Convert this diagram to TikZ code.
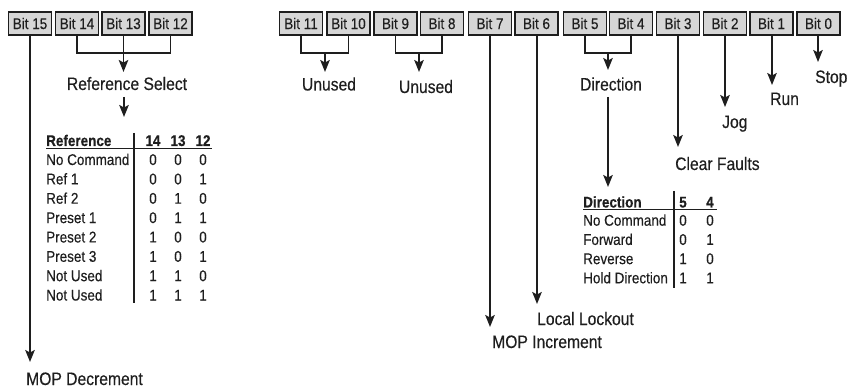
\documentclass[tikz,border=0pt]{standalone}
\usepackage{fontspec}
\setmainfont{Liberation Sans}[FakeStretch=0.87,FakeBold=0.35]
\usetikzlibrary{arrows.meta}
\definecolor{boxfill}{HTML}{D6D6D6}
\definecolor{ink}{HTML}{1E1E1E}
\begin{document}
\begin{tikzpicture}[x=1pt,y=-1pt,
  bitbox/.style={draw=ink, line width=1.6pt, fill=boxfill, minimum width=43pt, minimum height=23pt, inner sep=0pt, font=\fontsize{15.5}{17}\selectfont, text=ink},
  lbl/.style={inner sep=0pt, font=\fontsize{18}{20}\selectfont, text=ink, anchor=base west},
  lblc/.style={lbl, anchor=base},
  tbl/.style={inner sep=0pt, font=\fontsize{15.5}{17}\selectfont, text=ink},
  tblh/.style={inner sep=0pt, font=\fontsize{15.5}{17}\selectfont\bfseries, text=ink},
  wire/.style={draw=ink, line width=1.6pt},
  arr/.style={wire, -{Stealth[length=12pt,width=9.5pt,inset=2.5pt]}},
  tabrule/.style={draw=ink, line width=1.2pt}]
\useasboundingbox (0,0) rectangle (859,390);

% bit boxes
\foreach \n/\x in {15/30,14/77,13/123.5,12/170.5,11/301,10/348.5,9/395.5,8/442,7/490,6/536.5,5/585,4/631,3/678,2/725,1/771.5,0/818.5}
  \node[bitbox] (b\n) at (\x,23.5) {Bit \n};

% labels
\node[lblc] (refsel) at (127,90) {Reference Select};
\node[lblc] (unused1) at (329,90.5) {Unused};
\node[lblc] (unused2) at (426,93) {Unused};
\node[lblc] (dirlbl) at (611,90.5) {Direction};
\node[lbl] (stop) at (815,83) {Stop};
\node[lbl] (run) at (770,105) {Run};
\node[lbl] (jog) at (722,128) {Jog};
\node[lbl] (clrf) at (675,170) {Clear Faults};
\node[lbl] (locl) at (537,325) {Local Lockout};
\node[lbl] (mopi) at (492,348) {MOP Increment};
\node[lbl] (mopd) at (26,385) {MOP Decrement};

% junctions and arrow tips
\coordinate (jref) at (123.5,53);
\coordinate (tref) at (123.5,72);
\coordinate (rsout) at (124,97);
\coordinate (rsin) at (124,117);
\coordinate (ju1) at (325,53);
\coordinate (tu1) at (325,72);
\coordinate (ju2) at (419,53);
\coordinate (tu2) at (419,72);
\coordinate (jdir) at (608,53);
\coordinate (tdir) at (608,70);
\coordinate (dout) at (608,97);
\coordinate (din) at (608,187);
\coordinate (t15) at (30,362);
\coordinate (t7) at (490,327);
\coordinate (t6) at (537,304);
\coordinate (t3) at (678,147);
\coordinate (t2) at (725,107);
\coordinate (t1) at (772,85);
\coordinate (t0) at (818,62);

% brackets
\draw[wire] (b14.south) |- (jref) -| (b12.south);
\draw[wire] (b13.south) -- (jref);
\draw[arr] (jref) -- (tref);
\draw[arr] (rsout) -- (rsin);
\draw[wire] (b11.south) |- (ju1) -| (b10.south);
\draw[arr] (ju1) -- (tu1);
\draw[wire] (b9.south) |- (ju2) -| (b8.south);
\draw[arr] (ju2) -- (tu2);
\draw[wire] (b5.south) |- (jdir) -| (b4.south);
\draw[arr] (jdir) -- (tdir);
\draw[arr] (dout) -- (din);

% single bits
\draw[arr] (b15.south) -- (t15);
\draw[arr] (b7.south) -- (t7);
\draw[arr] (b6.south -| t6) -- (t6);
\draw[arr] (b3.south) -- (t3);
\draw[arr] (b2.south) -- (t2);
\draw[arr] (b1.south -| t1) -- (t1);
\draw[arr] (b0.south -| t0) -- (t0);

% reference table
\node[tblh, anchor=base west] (rh) at (46,146) {Reference};
\node[tblh, anchor=base] (rh14) at (153,146) {14};
\node[tblh, anchor=base] (rh13) at (178,146) {13};
\node[tblh, anchor=base] (rh12) at (203,146) {12};
\draw[tabrule] (134,133) -- (134,303);
\draw[tabrule] (46,148.5) -- (212,148.5);
\foreach \t/\a/\b/\c [count=\i] in {No Command/0/0/0, Ref 1/0/0/1, Ref 2/0/1/0, Preset 1/0/1/1, Preset 2/1/0/0, Preset 3/1/0/1, Not Used/1/1/0, Not Used/1/1/1} {
  \pgfmathsetmacro\yy{165+19.36*(\i-1)}
  \node[tbl, anchor=base west] (rr\i) at (46,\yy) {\t};
  \node[tbl, anchor=base] (ra\i) at (153,\yy) {\a};
  \node[tbl, anchor=base] (rb\i) at (178,\yy) {\b};
  \node[tbl, anchor=base] (rc\i) at (203,\yy) {\c};
}

% direction table
\node[tblh, anchor=base west] (dh) at (583,207.5) {Direction};
\node[tblh, anchor=base] (dh5) at (683,207.5) {5};
\node[tblh, anchor=base] (dh4) at (710,207.5) {4};
\draw[tabrule] (674,191) -- (674,288);
\draw[tabrule] (583,209.5) -- (717,209.5);
\foreach \t/\a/\b [count=\i] in {No Command/0/0, Forward/0/1, Reverse/1/0, Hold Direction/1/1} {
  \pgfmathsetmacro\yy{225.7+19.2*(\i-1)}
  \node[tbl, anchor=base west] (dr\i) at (583,\yy) {\t};
  \node[tbl, anchor=base] (da\i) at (683,\yy) {\a};
  \node[tbl, anchor=base] (db\i) at (710,\yy) {\b};
}
\end{tikzpicture}
\end{document}
